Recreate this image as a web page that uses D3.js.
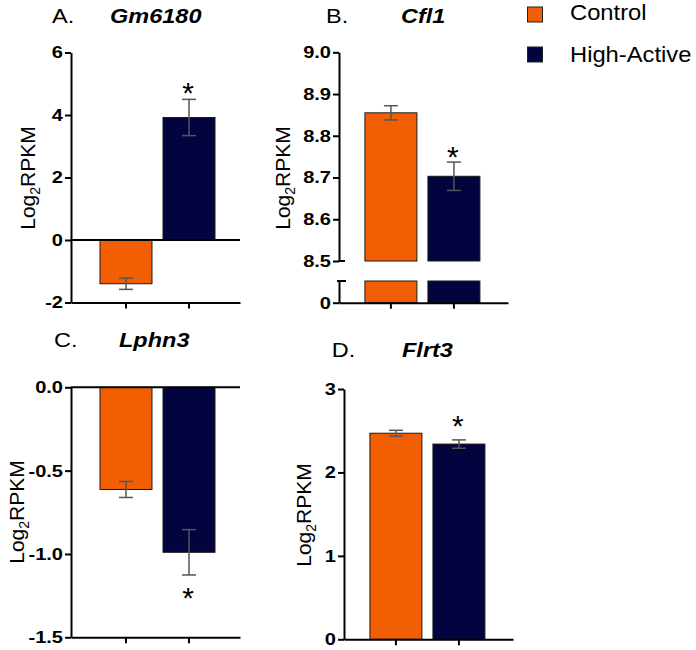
<!DOCTYPE html>
<html>
<head>
<meta charset="utf-8">
<script src="https://cdn.jsdelivr.net/npm/d3@7"></script>
<style>
  html, body { margin: 0; padding: 0; background: #fff; }
  svg { display: block; }
  text { font-family: "Liberation Sans", Arial, sans-serif; fill: #000; }
</style>
</head>
<body>
<svg id="chart" width="696" height="650"></svg>
<script>
// ---------------- DATA ----------------
const groups = ["Control", "High-Active"];
const panelLetters = ["A.", "B.", "C.", "D."];
const genes = ["Gm6180", "Cfl1", "Lphn3", "Flrt3"];

const meansA = [-1.40, 3.92];
const seA    = [0.18, 0.58];
const meansB = [8.855, 8.703];
const seB    = [0.017, 0.034];
const meansC = [-0.613, -0.99];
const seC    = [0.048, 0.136];
const meansD = [2.47, 2.34];
const seD    = [0.035, 0.05];

const significant = [false, true]; // asterisk on High-Active

const ticksA = [-2, 0, 2, 4, 6];
const ticksB = [8.5, 8.6, 8.7, 8.8, 8.9, 9.0];
const ticksBLow = [0];
const ticksC = [-1.5, -1.0, -0.5, 0.0];
const ticksD = [0, 1, 2, 3];

const colors = { "Control": "#f25f02", "High-Active": "#03033f" };

// ---------------- LAYOUT ----------------
const panels = [
  { letter: panelLetters[0], gene: genes[0], means: meansA, se: seA, ticks: ticksA, dec: 0,
    ax: 71, yDomain: [-2, 6], yRange: [302.5, 52.5], align: 0.537,
    titleY: 22.5, letterX: 52, geneX: 110, labX: 35, labY: 178, starGap: 13.5, baseline: 0 },
  { letter: panelLetters[1], gene: genes[1], means: meansB, se: seB, ticks: ticksB, dec: 1,
    ax: 339, yDomain: [8.5, 9.0], yRange: [261, 52.3], align: 0.48, broken: true,
    lowRange: [302.7, 281], lowTicks: ticksBLow,
    titleY: 22.5, letterX: 326, geneX: 401, labX: 290, labY: 178, starGap: 12.8 },
  { letter: panelLetters[2], gene: genes[2], means: meansC, se: seC, ticks: ticksC, dec: 1,
    ax: 71, yDomain: [-1.5, 0], yRange: [637.3, 387.3], align: 0.537,
    titleY: 347, letterX: 54, geneX: 119, labX: 24, labY: 512, starGap: 15.5, baseline: 0 },
  { letter: panelLetters[3], gene: genes[3], means: meansD, se: seD, ticks: ticksD, dec: 0,
    ax: 344, yDomain: [0, 3], yRange: [639.3, 389], align: 0.48,
    titleY: 356.7, letterX: 331.7, geneX: 402, labX: 311, labY: 515, starGap: 21.5 }
];

const svg = d3.select("#chart");
const AXW = 169;
const TSX = 1.18; // horizontal stretch of tick labels
const fmt = dec => d => d.toFixed(dec);

function styleAxis(g, stretch) {
  g.select(".domain").attr("stroke", "#000").attr("stroke-width", 2);
  g.selectAll(".tick line").attr("stroke", "#000").attr("stroke-width", 2);
  g.selectAll(".tick text")
    .attr("font-size", 17).attr("font-weight", "bold")
    .attr("font-family", "Liberation Sans, Arial, sans-serif")
    .each(function() {
      const t = d3.select(this);
      if (stretch) {
        const x = +t.attr("x");
        t.attr("x", x / TSX).attr("transform", `scale(${TSX},1)`);
      }
    });
}

panels.forEach(p => {
  const g = svg.append("g");
  const y = d3.scaleLinear().domain(p.yDomain).range(p.yRange);
  const x = d3.scaleBand().domain(groups).range([p.ax, p.ax + AXW])
    .paddingInner(0.175).paddingOuter(0.4286).align(p.align);
  const bw = x.bandwidth();

  const xAxisY = p.broken ? p.lowRange[0] : p.yRange[0];
  let yLow = null;
  if (p.broken) yLow = d3.scaleLinear().domain([0, 1]).range(p.lowRange);

  // bars
  groups.forEach((grp, i) => {
    const m = p.means[i];
    const base = p.broken ? p.yDomain[0] : 0;
    const y0 = y(base), y1 = y(m);
    g.append("rect")
      .attr("x", x(grp)).attr("width", bw)
      .attr("y", Math.min(y0, y1)).attr("height", Math.abs(y1 - y0))
      .attr("fill", colors[grp]).attr("stroke", "#1a1a1a").attr("stroke-width", 1);
    if (p.broken) {
      g.append("rect")
        .attr("x", x(grp)).attr("width", bw)
        .attr("y", yLow(1)).attr("height", yLow(0) - yLow(1))
        .attr("fill", colors[grp]).attr("stroke", "#1a1a1a").attr("stroke-width", 1);
    }
  });

  // axes
  const yAxis = d3.axisLeft(y).tickValues(p.ticks).tickFormat(fmt(p.dec))
    .tickSize(6).tickSizeOuter(0).tickPadding(2);
  const gy = g.append("g").attr("transform", `translate(${p.ax},0)`).call(yAxis);
  styleAxis(gy, true);

  if (p.broken) {
    const gyl = g.append("g").attr("transform", `translate(${p.ax},0)`)
      .call(d3.axisLeft(yLow).tickValues(p.lowTicks).tickFormat(fmt(0))
        .tickSize(6).tickSizeOuter(0).tickPadding(2));
    styleAxis(gyl, true);
    // break caps
    g.append("line").attr("x1", p.ax).attr("x2", p.ax + 6)
      .attr("y1", y(p.yDomain[0])).attr("y2", y(p.yDomain[0]))
      .attr("stroke", "#000").attr("stroke-width", 2);
    g.append("line").attr("x1", p.ax - 2).attr("x2", p.ax + 7)
      .attr("y1", yLow(1)).attr("y2", yLow(1))
      .attr("stroke", "#000").attr("stroke-width", 2);
  }

  const gx = g.append("g").attr("transform", `translate(0,${xAxisY})`)
    .call(d3.axisBottom(x).tickSize(6).tickSizeOuter(0).tickFormat(""));
  styleAxis(gx, false);

  if (p.baseline !== undefined && y(p.baseline) !== xAxisY) {
    g.append("line").attr("x1", p.ax).attr("x2", p.ax + AXW)
      .attr("y1", y(p.baseline)).attr("y2", y(p.baseline))
      .attr("stroke", "#000").attr("stroke-width", 2);
  }

  // error bars and stars
  groups.forEach((grp, i) => {
    const m = p.means[i], s = p.se[i];
    const cx = x(grp) + bw / 2;
    const yHi = y(m + s), yLo = y(m - s);
    const eb = g.append("g").attr("stroke", "#555").attr("stroke-width", 1.5);
    eb.append("line").attr("x1", cx).attr("x2", cx).attr("y1", yHi).attr("y2", yLo);
    [yHi, yLo].forEach(yy => eb.append("line")
      .attr("x1", cx - 7).attr("x2", cx + 7).attr("y1", yy).attr("y2", yy));
    if (significant[i]) {
      const up = m >= (p.broken ? p.yDomain[0] : 0);
      const c = up ? yHi - p.starGap : yLo + p.starGap;
      g.append("text").attr("x", cx - 1).attr("y", c + 0.575 * 30)
        .attr("text-anchor", "middle").attr("font-size", 30).text("*");
    }
  });

  // y label
  const lab = g.append("text")
    .attr("transform", `translate(${p.labX},${p.labY}) rotate(-90)`)
    .attr("text-anchor", "middle").attr("font-size", 21);
  lab.append("tspan").text("Log");
  lab.append("tspan").attr("font-size", 14).attr("dy", 5).text("2");
  lab.append("tspan").attr("dy", -5).text("RPKM");

  // title
  g.append("text").attr("transform", `translate(${p.letterX},${p.titleY}) scale(1.12,1)`)
    .attr("font-size", 21).text(p.letter);
  g.append("text").attr("transform", `translate(${p.geneX},${p.titleY}) scale(1.12,1)`)
    .attr("font-size", 21).attr("font-weight", "bold").attr("font-style", "italic").text(p.gene);
});

// legend
const leg = svg.append("g");
const legY = [7, 47];
const legTextY = [19.5, 61.5];
groups.forEach((grp, i) => {
  leg.append("rect").attr("x", 527.5).attr("y", legY[i]).attr("width", 15).attr("height", 15)
    .attr("fill", colors[grp]).attr("stroke", "#222").attr("stroke-width", 1);
  leg.append("text").attr("transform", `translate(570,${legTextY[i]}) scale(1.08,1)`)
    .attr("font-size", 22).text(grp);
});
</script>
</body>
</html>
